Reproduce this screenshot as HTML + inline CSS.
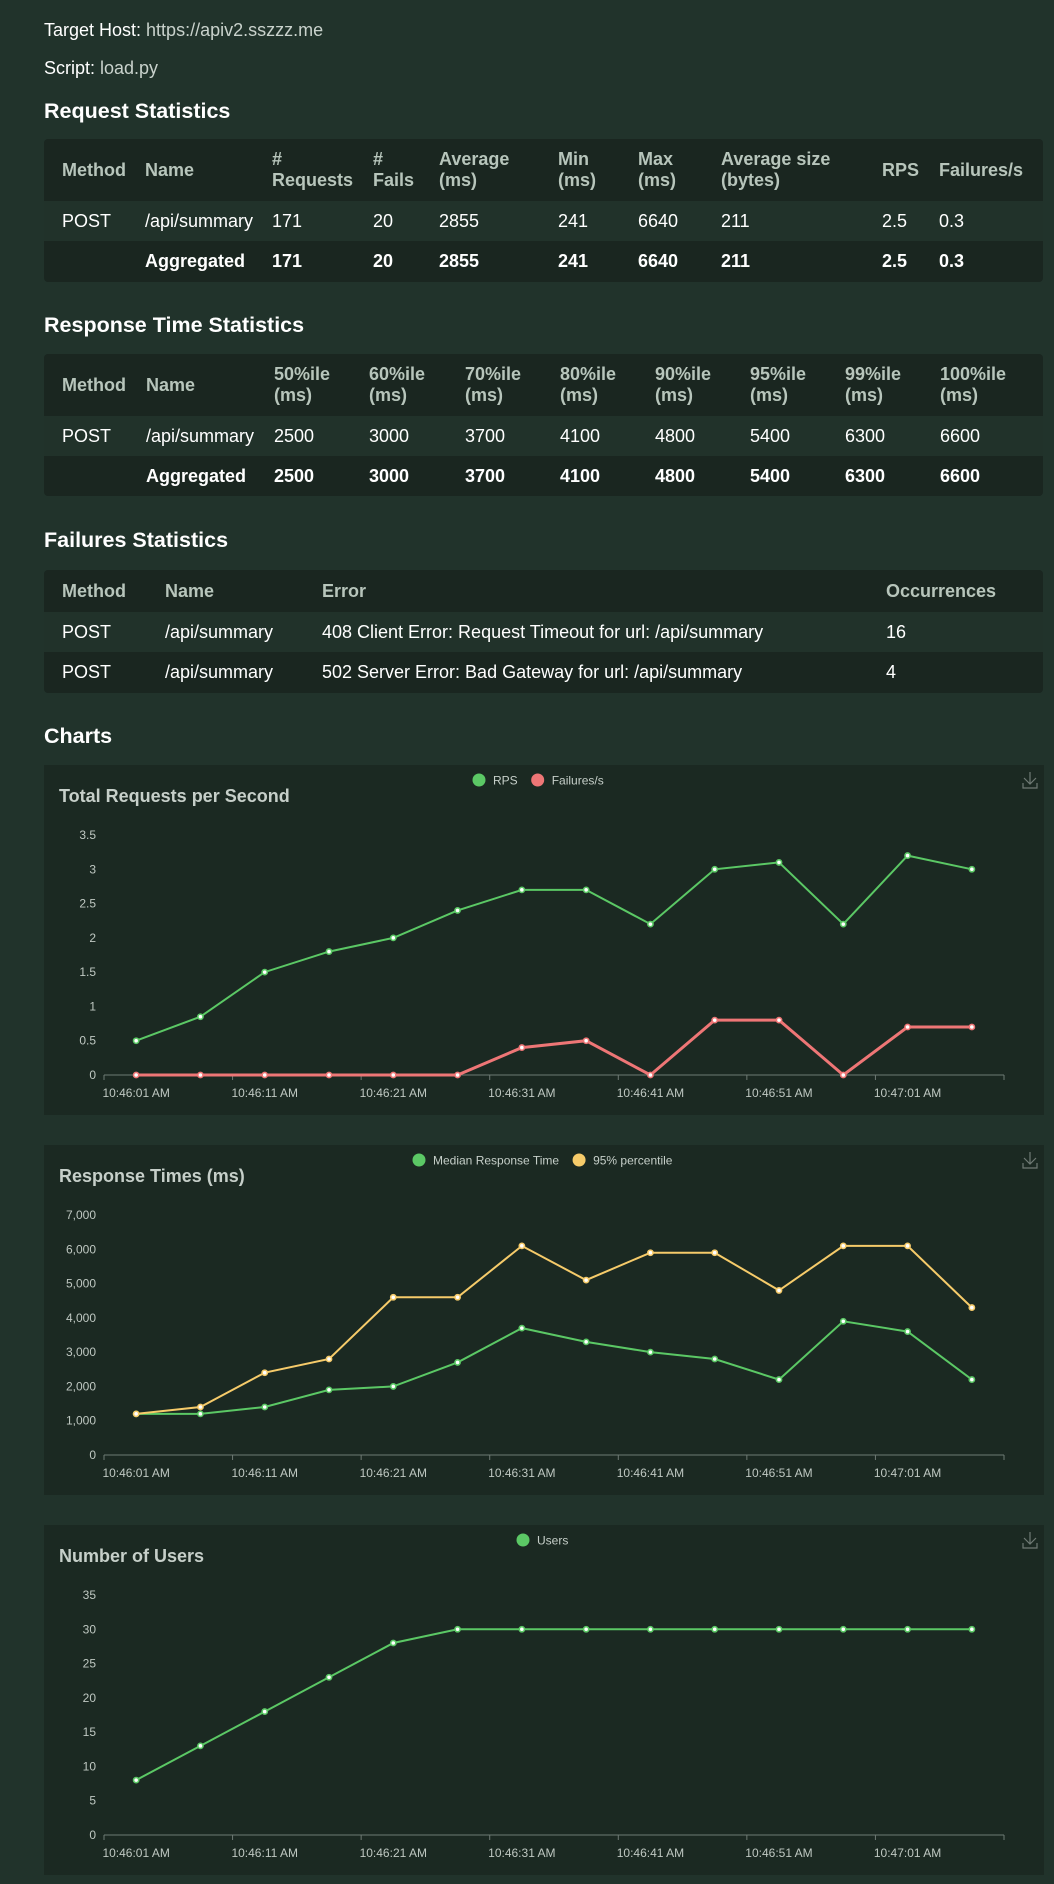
<!DOCTYPE html>
<html><head><meta charset="utf-8">
<style>
*{box-sizing:border-box;margin:0;padding:0}
body{width:1054px;height:1884px;background:#21332b;font-family:"Liberation Sans",Arial,sans-serif;color:#fff;position:relative;overflow:hidden}
.info{position:absolute;left:44px;font-size:18px;color:#fff}
.info span{color:#c9d2cc}
h2{position:absolute;left:44px;font-size:21.5px;font-weight:bold;color:#fff;line-height:26px}
table{position:absolute;left:44px;width:999px;border-collapse:collapse;table-layout:fixed;background:#1a2620;font-size:18px;border-radius:4px}
th{color:#b7c5bb;font-weight:bold;text-align:left;vertical-align:middle;line-height:21px;white-space:nowrap}
td{text-align:left;vertical-align:middle;white-space:nowrap}
th:first-child,td:first-child{padding-left:18px}
tr.r1{background:#21322a}
tr.agg td{font-weight:bold}
.chart{position:absolute;left:44px;width:1000px;height:350px;background:#1b2922}
</style></head>
<body>
<div class="info" style="top:20px">Target Host: <span>https://apiv2.sszzz.me</span></div>
<div class="info" style="top:58px">Script: <span>load.py</span></div>

<h2 style="top:98px">Request Statistics</h2>
<table style="top:139px">
<colgroup><col style="width:101px"><col style="width:127px"><col style="width:101px"><col style="width:66px"><col style="width:119px"><col style="width:80px"><col style="width:83px"><col style="width:161px"><col style="width:57px"><col style="width:104px"></colgroup>
<tr style="height:62px"><th>Method</th><th>Name</th><th>#<br>Requests</th><th>#<br>Fails</th><th>Average<br>(ms)</th><th>Min<br>(ms)</th><th>Max<br>(ms)</th><th>Average size<br>(bytes)</th><th>RPS</th><th>Failures/s</th></tr>
<tr class="r1" style="height:40px"><td>POST</td><td>/api/summary</td><td>171</td><td>20</td><td>2855</td><td>241</td><td>6640</td><td>211</td><td>2.5</td><td>0.3</td></tr>
<tr class="agg" style="height:41px"><td></td><td>Aggregated</td><td>171</td><td>20</td><td>2855</td><td>241</td><td>6640</td><td>211</td><td>2.5</td><td>0.3</td></tr>
</table>

<h2 style="top:312px">Response Time Statistics</h2>
<table style="top:354px">
<colgroup><col style="width:102px"><col style="width:128px"><col style="width:95px"><col style="width:96px"><col style="width:95px"><col style="width:95px"><col style="width:95px"><col style="width:95px"><col style="width:95px"><col style="width:103px"></colgroup>
<tr style="height:62px"><th>Method</th><th>Name</th><th>50%ile<br>(ms)</th><th>60%ile<br>(ms)</th><th>70%ile<br>(ms)</th><th>80%ile<br>(ms)</th><th>90%ile<br>(ms)</th><th>95%ile<br>(ms)</th><th>99%ile<br>(ms)</th><th>100%ile<br>(ms)</th></tr>
<tr class="r1" style="height:40px"><td>POST</td><td>/api/summary</td><td>2500</td><td>3000</td><td>3700</td><td>4100</td><td>4800</td><td>5400</td><td>6300</td><td>6600</td></tr>
<tr class="agg" style="height:40px"><td></td><td>Aggregated</td><td>2500</td><td>3000</td><td>3700</td><td>4100</td><td>4800</td><td>5400</td><td>6300</td><td>6600</td></tr>
</table>

<h2 style="top:527px">Failures Statistics</h2>
<table style="top:570px">
<colgroup><col style="width:121px"><col style="width:157px"><col style="width:564px"><col style="width:157px"></colgroup>
<tr style="height:42px"><th>Method</th><th>Name</th><th>Error</th><th>Occurrences</th></tr>
<tr class="r1" style="height:40px"><td>POST</td><td>/api/summary</td><td>408 Client Error: Request Timeout for url: /api/summary</td><td>16</td></tr>
<tr style="height:41px"><td>POST</td><td>/api/summary</td><td>502 Server Error: Bad Gateway for url: /api/summary</td><td>4</td></tr>
</table>

<h2 style="top:723px">Charts</h2>

<div class="chart" style="top:765px"><svg id="c1" width="1000" height="350"></svg></div>
<div class="chart" style="top:1145px"><svg id="c2" width="1000" height="350"></svg></div>
<div class="chart" style="top:1525px"><svg id="c3" width="1000" height="350"></svg></div>

<script>
const categories = ["10:46:01 AM","10:46:06 AM","10:46:11 AM","10:46:16 AM","10:46:21 AM","10:46:26 AM","10:46:31 AM","10:46:36 AM","10:46:41 AM","10:46:46 AM","10:46:51 AM","10:46:56 AM","10:47:01 AM","10:47:06 AM"];
const rpsValues = [0.5,0.85,1.5,1.8,2.0,2.4,2.7,2.7,2.2,3.0,3.1,2.2,3.2,3.0];
const failValues = [0,0,0,0,0,0,0.4,0.5,0,0.8,0.8,0,0.7,0.7];
const medianValues = [1200,1200,1400,1900,2000,2700,3700,3300,3000,2800,2200,3900,3600,2200];
const p95Values = [1200,1400,2400,2800,4600,4600,6100,5100,5900,5900,4800,6100,6100,4300];
const userValues = [8,13,18,23,28,30,30,30,30,30,30,30,30,30];
const rpsTicks = ["0","0.5","1","1.5","2","2.5","3","3.5"];
const rtTicks = ["0","1,000","2,000","3,000","4,000","5,000","6,000","7,000"];
const userTicks = ["0","5","10","15","20","25","30","35"];

const NS="http://www.w3.org/2000/svg";
function mk(svg,tag,attrs){const e=document.createElementNS(NS,tag);for(const k in attrs)e.setAttribute(k,attrs[k]);svg.appendChild(e);return e;}

function drawChart(id,title,ticks,yMax,series,legendX){
  const svg=document.getElementById(id);
  const x0=60,x1=960,yBase=310,yTop=70;
  const n=categories.length,bw=(x1-x0)/n;
  const xf=i=>x0+bw*(i+0.5);
  const yf=v=>yBase-(v/yMax)*(yBase-yTop);
  const t=mk(svg,'text',{x:15,y:37,'font-size':18,'font-weight':'bold',fill:'#c6cfc9'});t.textContent=title;
  
  
  const ic=mk(svg,'path',{d:'M986 7v12M980 13l6 6 6-6M979 18v5h14v-5',stroke:'#6f7a74','stroke-width':1.2,fill:'none'});
  
  
  ticks.forEach((lab,i)=>{
    const v=yMax*i/(ticks.length-1);
    const tx=mk(svg,'text',{x:52,y:yf(v)+4,'font-size':12,fill:'#bfc8c2','text-anchor':'end'});tx.textContent=lab;
    
    
  });
  const ax=mk(svg,'line',{x1:x0,x2:x1,y1:yBase,y2:yBase,stroke:'#6e7a74','stroke-width':1});
  
  
  for(let i=0;i<=n;i+=2){mk(svg,'line',{x1:x0+bw*i,x2:x0+bw*i,y1:yBase,y2:yBase+5,stroke:'#6e7a74'});}
  categories.forEach((c,i)=>{
    if(i%2)return;
    const tx=mk(svg,'text',{x:xf(i),y:yBase+22,'font-size':12,fill:'#bfc8c2','text-anchor':'middle'});tx.textContent=c;
    
    
  });
  let lx=legendX;
  series.forEach(s=>{
    const c=mk(svg,'circle',{cx:lx,cy:15,r:6.5,fill:s.color});
    
    
    const tx=mk(svg,'text',{x:lx+14,y:19.5,'font-size':12,fill:'#c6cfc9'});tx.textContent=s.name;
    
    
    lx+=tx.getComputedTextLength()+34;
  });
  series.forEach(s=>{
    const pts=s.data.map((v,i)=>xf(i).toFixed(1)+','+yf(v).toFixed(1)).join(' ');
    const pl=mk(svg,'polyline',{points:pts,fill:'none',stroke:s.color,'stroke-width':s.w});
    
    
    s.data.forEach((v,i)=>{
      const p=mk(svg,'circle',{cx:xf(i),cy:yf(v),r:2.6,fill:'#fff',stroke:s.color,'stroke-width':1.6});
      
      
    });
  });
}
drawChart('c1','Total Requests per Second',rpsTicks,3.5,[
  {name:'RPS',data:rpsValues,color:'#5bc865',w:2},
  {name:'Failures/s',data:failValues,color:'#ee7676',w:3}],435);
drawChart('c2','Response Times (ms)',rtTicks,7000,[
  {name:'Median Response Time',data:medianValues,color:'#5bc865',w:2},
  {name:'95% percentile',data:p95Values,color:'#f6cb6a',w:2}],375);
drawChart('c3','Number of Users',userTicks,35,[
  {name:'Users',data:userValues,color:'#5bc865',w:2}],479);
</script>
</body></html>
